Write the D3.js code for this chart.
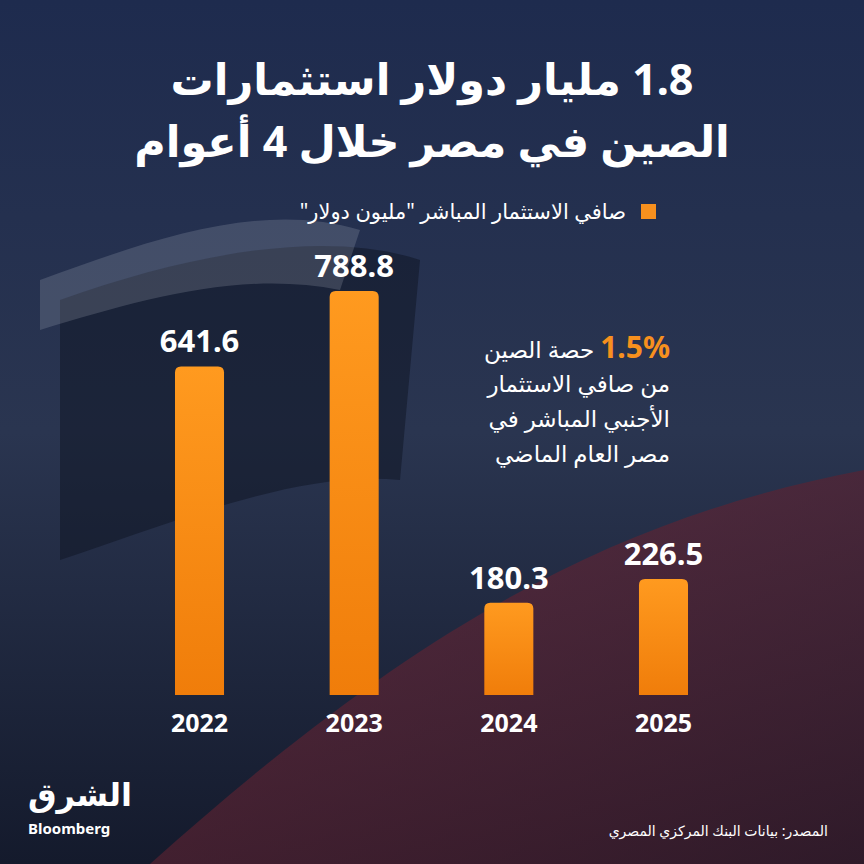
<!DOCTYPE html>
<head>
<meta charset="utf-8">
<script src="https://cdn.jsdelivr.net/npm/d3@7"></script>
<style>
  body { margin:0; background:#1b2540; }
  svg { display:block; }
  text { font-family: "Noto Sans", "DejaVu Sans", sans-serif; }
</style>
</head>
<body>
<script>
var years = ["2022", "2023", "2024", "2025"];
var values = [641.6, 788.8, 180.3, 226.5];
var labels = ["641.6", "788.8", "180.3", "226.5"];

var W = 864, H = 864;
var svg = d3.select("body").append("svg").attr("width", W).attr("height", H);
var defs = svg.append("defs");

// background
var bg = defs.append("linearGradient").attr("id", "bg").attr("x1", 0).attr("y1", 0).attr("x2", 0).attr("y2", 1);
bg.append("stop").attr("offset", "0").attr("stop-color", "#1e2b4e");
bg.append("stop").attr("offset", "0.5").attr("stop-color", "#2a3550");
bg.append("stop").attr("offset", "1").attr("stop-color", "#141a2c");
svg.append("rect").attr("width", W).attr("height", H).attr("fill", "url(#bg)");

// flag hints
var red = defs.append("linearGradient").attr("id", "red").attr("x1", 0).attr("y1", 0).attr("x2", 1).attr("y2", 1);
red.append("stop").attr("offset", "0").attr("stop-color", "#7a2a3a").attr("stop-opacity", 0.6);
red.append("stop").attr("offset", "1").attr("stop-color", "#3a1a28").attr("stop-opacity", 0.7);
svg.append("path").attr("d", "M150,864 C400,640 600,520 864,470 L864,864 Z").attr("fill", "url(#red)");
svg.append("path").attr("d", "M60,300 C200,250 330,230 420,260 L400,480 C300,470 180,520 60,560 Z")
  .attr("fill", "#0d1322").attr("opacity", 0.5);
svg.append("path").attr("d", "M40,280 C150,240 260,200 360,230 L340,290 C240,270 140,300 40,330 Z")
  .attr("fill", "#cfd3dc").attr("opacity", 0.18);

// title
var title = ["1.8 مليار دولار استثمارات", "الصين في مصر خلال 4 أعوام"];
svg.selectAll(".title").data(title).enter().append("text")
  .attr("x", W / 2).attr("y", function (d, i) { return 95 + i * 62; })
  .attr("text-anchor", "middle").attr("fill", "#fff")
  .attr("font-size", 43).attr("font-weight", "bold").attr("direction", "rtl")
  .text(function (d) { return d; });

// legend
svg.append("rect").attr("x", 641).attr("y", 204).attr("width", 15).attr("height", 15).attr("fill", "#f7901e");
svg.append("text").attr("x", 626).attr("y", 219).attr("text-anchor", "start").attr("direction", "rtl")
  .attr("fill", "#fff").attr("font-size", 21).text('صافي الاستثمار المباشر "مليون دولار"');

// scales
var x = d3.scaleBand().domain(years).range([175, 688]).paddingInner(0.683).paddingOuter(0);
var y = d3.scaleLinear().domain([0, 788.8]).range([695, 291]);

var bar = defs.append("linearGradient").attr("id", "bar").attr("x1", 0).attr("y1", 0).attr("x2", 0).attr("y2", 1);
bar.append("stop").attr("offset", "0").attr("stop-color", "#ff9a1f");
bar.append("stop").attr("offset", "1").attr("stop-color", "#f07d0a");

var r = 6;
svg.selectAll(".bar").data(values).enter().append("path")
  .attr("fill", "url(#bar)")
  .attr("d", function (d, i) {
    var x0 = x(years[i]), w = x.bandwidth(), t = y(d), b = y(0);
    return "M" + x0 + "," + b + "V" + (t + r) + "Q" + x0 + "," + t + " " + (x0 + r) + "," + t +
      "H" + (x0 + w - r) + "Q" + (x0 + w) + "," + t + " " + (x0 + w) + "," + (t + r) + "V" + b + "Z";
  });

svg.selectAll(".val").data(values).enter().append("text")
  .attr("x", function (d, i) { return x(years[i]) + x.bandwidth() / 2; })
  .attr("y", function (d) { return y(d) - 14; })
  .attr("text-anchor", "middle").attr("fill", "#fff").attr("font-size", 31).attr("font-weight", "bold")
  .text(function (d, i) { return labels[i]; });

var xAxis = svg.append("g").attr("transform", "translate(0,695)").call(d3.axisBottom(x).tickSize(0).tickPadding(14));
xAxis.select(".domain").remove();
xAxis.selectAll("text").attr("fill", "#fff").attr("font-size", 25).attr("font-weight", "bold")
  .attr("font-family", "'Noto Sans', sans-serif").attr("dy", "0.9em");

// annotation
var ann = svg.append("text").attr("x", 670).attr("y", 358).attr("text-anchor", "start").attr("direction", "rtl")
  .attr("fill", "#fff").attr("font-size", 23);
ann.append("tspan").attr("fill", "#f7901e").attr("font-weight", "bold").attr("font-size", 30).text("1.5%");
ann.append("tspan").text(" حصة الصين");
var annLines = ["من صافي الاستثمار", "الأجنبي المباشر في", "مصر العام الماضي"];
svg.selectAll(".ann").data(annLines).enter().append("text")
  .attr("x", 670).attr("y", function (d, i) { return 392 + i * 35; })
  .attr("text-anchor", "start").attr("direction", "rtl").attr("fill", "#fff").attr("font-size", 23)
  .text(function (d) { return d; });

// logo and source
svg.append("text").attr("x", 28).attr("y", 806).attr("fill", "#fff").attr("font-size", 32).attr("font-weight", "bold")
  .attr("direction", "rtl").attr("text-anchor", "end").text("الشرق");
svg.append("text").attr("x", 28).attr("y", 834).attr("fill", "#fff").attr("font-size", 15).attr("font-weight", "bold")
  .text("Bloomberg");
svg.append("text").attr("x", 828).attr("y", 836).attr("fill", "#fff").attr("font-size", 14)
  .attr("direction", "rtl").attr("text-anchor", "start").text("المصدر: بيانات البنك المركزي المصري");
</script>
</body>
